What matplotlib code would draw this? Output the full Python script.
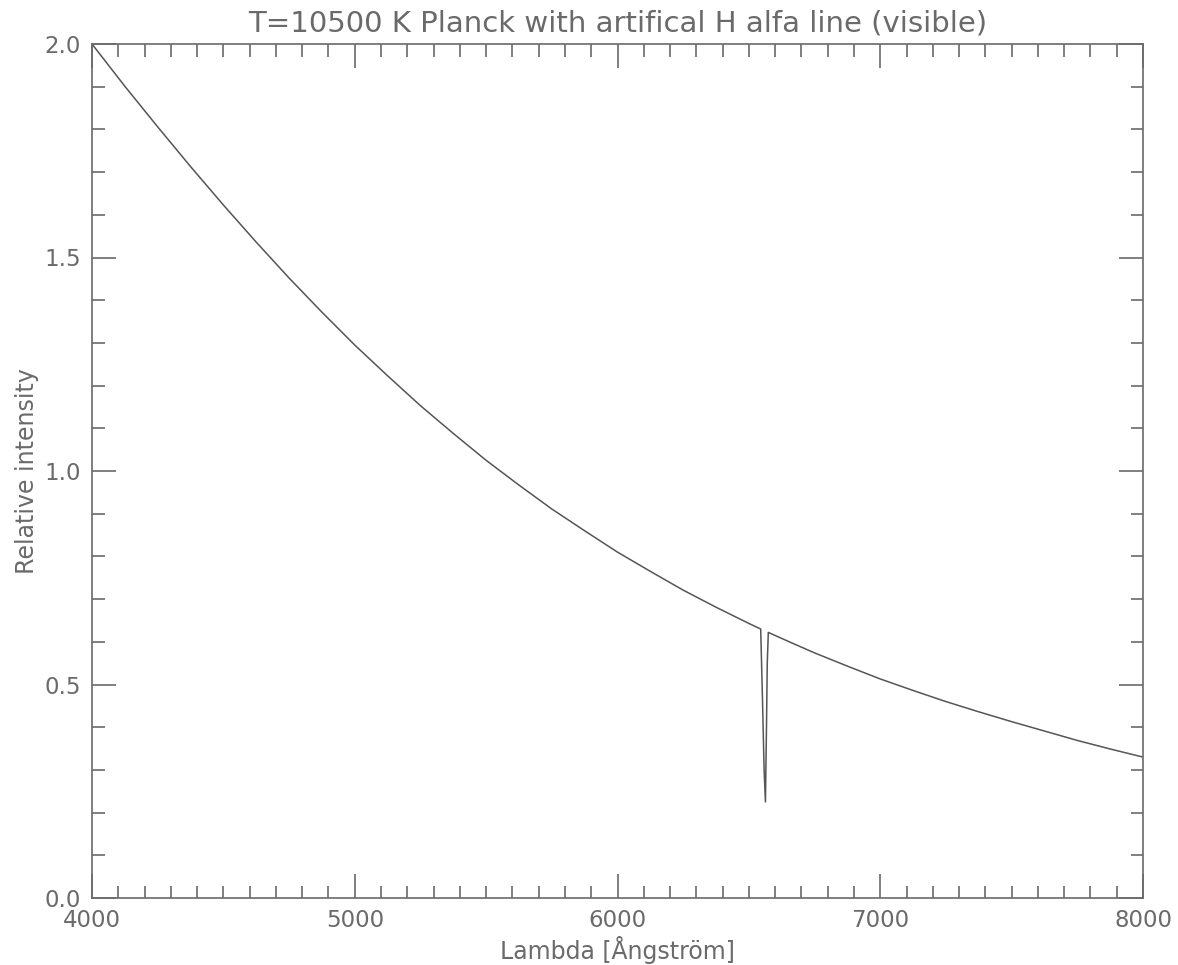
import numpy as np
import matplotlib
matplotlib.use('Agg')
import matplotlib.pyplot as plt
import matplotlib.ticker as ticker

# wavelength [Angstrom] and relative intensity
wavelength = [4000, 4125, 4250, 4375, 4500, 4625, 4750, 4875, 5000, 5125, 5250,
              5375, 5500, 5625, 5750, 5875, 6000, 6125, 6250, 6375, 6500,
              6545, 6552, 6558, 6563, 6567, 6570, 6574,
              6650, 6750, 6875, 7000, 7125, 7250, 7375, 7500, 7625, 7750, 7875, 8000]
intensity = [2.000, 1.901, 1.806, 1.713, 1.623, 1.536, 1.452, 1.372, 1.295, 1.223, 1.153,
             1.088, 1.025, 0.967, 0.911, 0.860, 0.810, 0.765, 0.721, 0.681, 0.643,
             0.630, 0.46, 0.30, 0.225, 0.40, 0.55, 0.622,
             0.601, 0.574, 0.543, 0.513, 0.486, 0.460, 0.436, 0.413, 0.391, 0.369, 0.349, 0.330]

title = "T=10500 K Planck with artifical H alfa line (visible)"
xlabel = "Lambda [Ångström]"
ylabel = "Relative intensity"

gray = '#6a6a6a'

fig = plt.figure(figsize=(11.78, 9.65), dpi=100)
ax = fig.add_axes([92/1178, 67/965, 1051/1178, 854/965])

ax.plot(wavelength, intensity, color='#555555', lw=1.1)

ax.set_xlim(4000, 8000)
ax.set_ylim(0, 2.0)
ax.xaxis.set_major_locator(ticker.MultipleLocator(1000))
ax.xaxis.set_minor_locator(ticker.MultipleLocator(100))
ax.yaxis.set_major_locator(ticker.MultipleLocator(0.5))
ax.yaxis.set_minor_locator(ticker.MultipleLocator(0.1))
ax.yaxis.set_major_formatter(ticker.FormatStrFormatter('%.1f'))

ax.tick_params(which='both', direction='in', top=True, right=True,
               color=gray, width=1.2, labelcolor=gray, labelsize=16.5)
ax.tick_params(which='major', length=17, pad=8)
ax.tick_params(which='minor', length=9)
for s in ax.spines.values():
    s.set_color(gray)
    s.set_linewidth(1.2)

ax.set_title(title, fontsize=21, color=gray, pad=9)
ax.set_xlabel(xlabel, fontsize=17, color=gray, labelpad=3)
ax.set_ylabel(ylabel, fontsize=17, color=gray, labelpad=4)

fig.savefig('out.png', dpi=100)
